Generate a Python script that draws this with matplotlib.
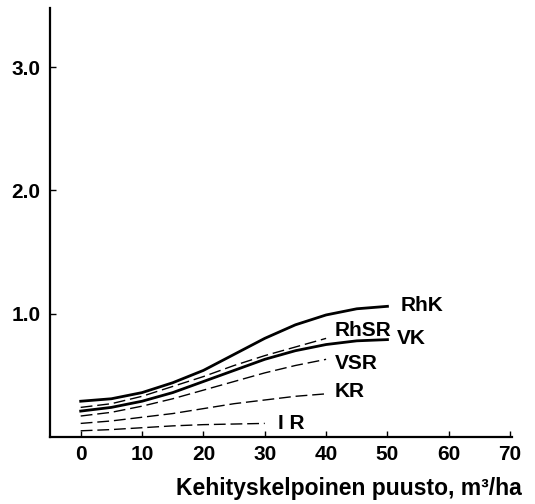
import matplotlib.pyplot as plt

plt.rcParams['font.family'] = ['Liberation Sans', 'DejaVu Sans']

# Kehityskelpoinen puusto (m3/ha) ja käyrien arvot
x_long = [0, 5, 10, 15, 20, 25, 30, 35, 40, 45, 50]
x_mid = [0, 5, 10, 15, 20, 25, 30, 35, 40]
x_short = [0, 5, 10, 15, 20, 25, 30]

rhk = [0.29, 0.31, 0.36, 0.44, 0.54, 0.67, 0.80, 0.91, 0.99, 1.04, 1.06]
vk = [0.21, 0.24, 0.29, 0.36, 0.45, 0.54, 0.63, 0.70, 0.75, 0.78, 0.79]
rhsr = [0.24, 0.27, 0.33, 0.41, 0.49, 0.58, 0.66, 0.73, 0.80]
vsr = [0.17, 0.20, 0.25, 0.31, 0.38, 0.45, 0.52, 0.58, 0.63]
kr = [0.11, 0.13, 0.16, 0.19, 0.23, 0.27, 0.30, 0.33, 0.35]
ir = [0.05, 0.06, 0.075, 0.09, 0.10, 0.105, 0.11]

x_ticks = [0, 10, 20, 30, 40, 50, 60, 70]
y_ticks = [1.0, 2.0, 3.0]

fig = plt.figure(figsize=(5.35, 5.04), dpi=100)
ax = fig.add_axes([0.0935, 0.133, 0.8635, 0.851])

dash = (0, (8.5, 3.5))
ax.plot(x_long, rhk, color='black', lw=2.0)
ax.plot(x_long, vk, color='black', lw=2.0)
ax.plot(x_mid, rhsr, color='black', lw=1.0, linestyle=dash)
ax.plot(x_mid, vsr, color='black', lw=1.0, linestyle=dash)
ax.plot(x_mid, kr, color='black', lw=1.0, linestyle=dash)
ax.plot(x_short, ir, color='black', lw=1.0, linestyle=dash)

# käyrien nimet (tekstin alareuna)
lab = dict(fontsize=15, fontweight='bold', va='baseline', ha='left')
ax.text(52.1, 1.02, 'RhK', **lab)
ax.text(51.6, 0.753, 'VK', **lab)
ax.text(41.4, 0.818, 'RhSR', **lab)
ax.text(41.4, 0.551, 'VSR', **lab)
ax.text(41.4, 0.324, 'KR', **lab)
ax.text(32.2, 0.065, 'I R', **lab)

ax.set_xlim(-5, 70.3)
ax.set_ylim(0, 3.48)
ax.set_xticks(x_ticks)
ax.set_xticklabels([str(v) for v in x_ticks])
ax.set_yticks(y_ticks)
ax.set_yticklabels(['%.1f' % v for v in y_ticks])
ax.tick_params(direction='in', length=4, width=1.0, labelsize=15)
ax.tick_params(axis='x', pad=5.5)
ax.tick_params(axis='y', pad=7)
for t in ax.get_xticklabels() + ax.get_yticklabels():
    t.set_fontweight('bold')

for side in ['top', 'right']:
    ax.spines[side].set_visible(False)
for side in ['left', 'bottom']:
    ax.spines[side].set_linewidth(1.6)

fig.text(0.976, 0.018, 'Kehityskelpoinen puusto, m³/ha', ha='right',
         va='baseline', fontsize=16.5, fontweight='bold')

fig.savefig('out.png', dpi=100)
